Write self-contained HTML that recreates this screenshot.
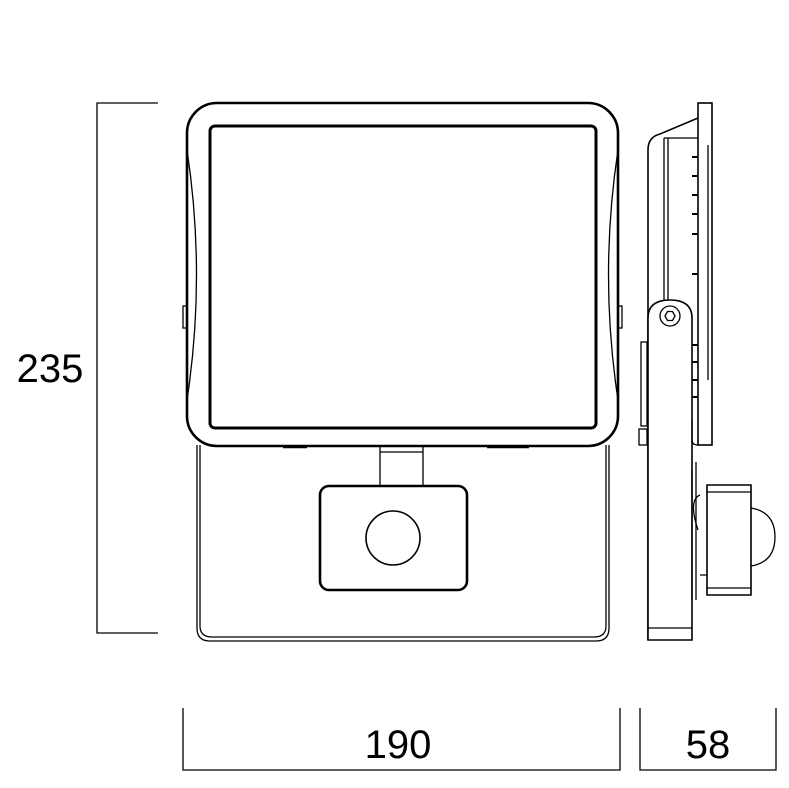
<!DOCTYPE html>
<html><head><meta charset="utf-8"><style>
html,body{margin:0;padding:0;background:#fff;}
svg{display:block;}
text{font-family:"Liberation Sans",sans-serif;font-size:40px;fill:#000;}
</style></head><body>
<svg width="789" height="788" viewBox="0 0 789 788" xmlns="http://www.w3.org/2000/svg">
<g fill="none" stroke="#000" stroke-width="1.3">
<path d="M158 103 H97 V633 H158"/>
<path d="M183 708 V770 H620 V708"/>
<path d="M640 708 V770 H776 V708"/>
<path d="M197 445 V628 Q197 641 210 641 H596 Q609 641 609 628 V445"/>
<path d="M200 445 V626 Q200 637 212 637 H594 Q606 637 606 626 V445"/>
<rect x="187" y="103" width="431" height="343" rx="30" stroke-width="2.6"/>
<rect x="210" y="126" width="386" height="302" rx="5" stroke-width="3"/>
<path d="M187 150 Q206 275 187 400"/>
<path d="M618 150 Q599 275 618 400"/>
<rect x="183" y="306" width="4" height="22"/>
<rect x="618" y="306" width="4" height="22"/>
<path d="M283 447 H307" stroke-width="2.5"/>
<path d="M487 447 H529" stroke-width="2.5"/>
<path d="M380 447 V487 M423 447 V487 M380 452 H423"/>
<rect x="320" y="486" width="147" height="104" rx="9" stroke-width="2.6"/>
<circle cx="393" cy="538" r="27" stroke-width="1.6"/>
<rect x="698" y="103" width="14" height="342" stroke-width="1.6"/>
<path d="M708 145 V380"/>
<path d="M648 640 V150 Q648 137 660 134 L698 118" stroke-width="1.6"/>
<path d="M664 138 V300 M668 138 V300 M664 138 H698"/>
<g stroke-width="2">
<path d="M692 157 h6 M692 176 h6 M692 195 h6 M692 214 h6 M692 234 h6 M692 274 h6 M692 345 h6 M692 362 h6 M692 380 h6 M692 397 h6"/>
</g>
<path d="M648 640 V318 Q648 300 670 300 Q692 300 692 318 V640 Z" fill="#fff" stroke-width="1.6"/>
<path d="M648 628 H692"/>
<circle cx="670" cy="316" r="10"/>
<polygon points="665,316 667.5,311.5 672.5,311.5 675,316 672.5,320.5 667.5,320.5"/>
<rect x="641" y="342" width="6" height="84"/>
<rect x="639" y="429" width="8" height="16"/>
<path d="M692 420 V440 Q692 445 698 445 M692 470 V600 M696 462 V600"/>
<path d="M707 485 H751 V595 H707 Z" fill="#fff" stroke-width="1.6"/>
<path d="M707 492 H751 M707 588 H751"/>
<path d="M751 508 Q775 512 775 537 Q775 562 751 566"/>
<path d="M700 495 Q688 500 698 530 M700 575 H707"/>
</g>
<text x="50" y="382" text-anchor="middle">235</text>
<text x="398" y="758" text-anchor="middle">190</text>
<text x="708" y="758" text-anchor="middle">58</text>
</svg>
</body></html>
